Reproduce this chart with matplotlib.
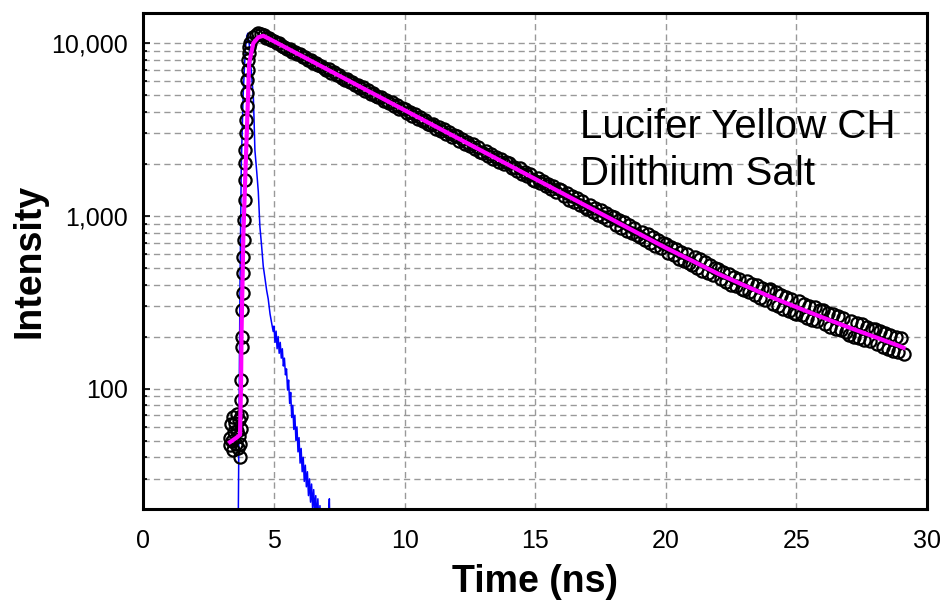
import numpy as np
import matplotlib
matplotlib.use('Agg')
from matplotlib import pyplot as plt
from matplotlib.ticker import FixedLocator, LogLocator, NullFormatter

# measured decay (open circles) - leading edge, uneven spacing
rise_t = [3.30, 3.33, 3.36, 3.39, 3.42, 3.45, 3.48, 3.51, 3.54, 3.57, 3.60, 3.63, 3.66, 3.68,
          3.70, 3.71, 3.72, 3.73, 3.74, 3.75, 3.77, 3.78, 3.79, 3.80, 3.82, 3.83, 3.85, 3.86,
          3.88, 3.89, 3.90, 3.91, 3.93, 3.94, 3.95, 3.96, 3.98, 3.99, 4.00, 4.03, 4.06]
rise_counts = [52, 47, 62, 50, 68, 44, 56, 63, 48, 57, 71, 45, 53, 66,
               40, 48, 58, 69, 86, 112, 175, 200, 286, 357, 466, 581, 726, 948,
               1240, 1620, 2020, 2410, 3010, 3600, 4300, 5130, 6120, 7000, 8000, 8800, 9500]

# measured decay - tail, one channel every 0.1 ns starting at 4.1 ns
decay_t0 = 4.1
decay_step = 0.1
decay_counts = [
    10000, 10800, 11200, 11450, 11350, 11100, 10750, 10700, 10350,
    10300, 9950, 9950, 9600, 9550, 9250, 9250, 8900, 8900, 8600,
    8600, 8300, 8250, 7950, 7980, 7700, 7700, 7420, 7400, 7150,
    7000, 7050, 6750, 6800, 6500, 6550, 6300, 6150, 6200, 5950,
    5950, 5700, 5750, 5500, 5550, 5300, 5350, 5100, 5150, 4950,
    4850, 4880, 4650, 4700, 4500, 4540, 4330, 4380, 4180, 4200,
    4150, 3950, 4000, 3800, 3880, 3650, 3720, 3520, 3600, 3400,
    3350, 3400, 3200, 3280, 3100, 3160, 2980, 3050, 2870, 2930,
    2900, 2720, 2790, 2620, 2690, 2530, 2590, 2440, 2500, 2350,
    2300, 2370, 2220, 2290, 2140, 2200, 2060, 2130, 1990, 2050,
    2010, 1890, 1920, 1820, 1880, 1740, 1800, 1690, 1740, 1610,
    1580, 1660, 1540, 1600, 1480, 1530, 1420, 1490, 1370, 1430,
    1410, 1300, 1350, 1240, 1310, 1200, 1270, 1150, 1220, 1120,
    1090, 1160, 1050, 1110, 1010, 1080, 980, 1040, 940, 1000,
    990, 890, 950, 850, 920, 820, 880, 800, 850, 770,
    750, 810, 720, 780, 700, 750, 670, 720, 650, 700,
    690, 610, 660, 590, 640, 560, 620, 550, 600, 530,
    520, 580, 500, 560, 480, 540, 465, 520, 455, 500,
    495, 430, 475, 415, 460, 400, 445, 390, 430, 375,
    370, 420, 360, 405, 350, 395, 335, 380, 325, 370,
    375, 310, 360, 300, 350, 290, 340, 280, 330, 275,
    270, 320, 265, 310, 255, 300, 250, 295, 245, 285,
    285, 235, 275, 228, 270, 222, 262, 218, 255, 212,
    205, 245, 200, 240, 195, 235, 190, 228, 188, 222,
    222, 180, 215, 175, 210, 170, 205, 165, 200, 162,
    195, 158,
]

# fitted curve (magenta)
fit_t = [3.32, 3.57, 3.70, 3.74, 3.76, 3.80, 3.83, 3.89, 3.95, 4.05, 4.21, 4.40, 4.59,
         5, 6, 7, 8, 9, 10, 11, 12, 13, 14, 15, 16, 17, 18, 19, 20,
         21, 22, 23, 24, 25, 26, 27, 28, 29, 29.1]
fit_counts = [49, 52, 54, 110, 219, 450, 798, 1500, 2755, 7650, 10000, 10800, 11020,
              10235, 8519, 7091, 5902, 4913, 4089, 3404, 2833, 2358, 1963, 1634, 1360, 1132, 942, 784, 653,
              550, 462, 396, 340, 296, 258, 226, 199, 175, 172]

# instrument response (blue)
irf_t = [3.60, 3.63, 3.66, 3.70, 3.75, 3.82, 3.90, 3.96, 4.00, 4.05, 4.12, 4.21, 4.24,
         4.27, 4.34, 4.40, 4.46, 4.53, 4.59, 4.66, 4.72, 4.78, 4.85, 4.91, 4.97]
irf_counts = [5, 15, 60, 400, 2000, 5000, 9000, 11000, 11400, 10000, 7200, 4900, 3500,
              2400, 1800, 1380, 870, 660, 510, 430, 370, 330, 270, 240, 214]
irf_tail_t0 = 5.0
irf_tail_step = 0.04
irf_tail_counts = [230, 185, 215, 170, 200, 160, 185, 150, 170, 135, 150, 120, 130, 98,
                   112, 82, 95, 68, 80, 58, 70, 50, 60, 43, 52, 37, 45, 33, 40, 29,
                   36, 27, 33, 24, 30, 22, 28, 20, 26, 19, 24, 17, 23, 16, 21, 15,
                   20, 14, 19, 13, 18, 12, 17, 23, 11, 14, 8]

x_ticks = [0, 5, 10, 15, 20, 25, 30]
y_ticks = [100, 1000, 10000]
y_ticklabels = ['100', '1,000', '10,000']


def main():
    plt.rcParams['font.family'] = ['Liberation Sans', 'DejaVu Sans']

    fig = plt.figure(figsize=(9.45, 6.02), dpi=100)
    ax = fig.add_axes([0.1517, 0.154, 0.8293, 0.825])

    decay_t = decay_t0 + decay_step * np.arange(len(decay_counts))
    tail_t = irf_tail_t0 + irf_tail_step * np.arange(len(irf_tail_counts))
    circ_t = np.concatenate([rise_t, decay_t])
    circ_c = np.concatenate([rise_counts, decay_counts])
    blue_t = np.concatenate([irf_t, tail_t])
    blue_c = np.concatenate([irf_counts, irf_tail_counts])

    ax.plot(blue_t, blue_c, color='#0000ff', lw=1.1, zorder=2)
    ax.plot(circ_t, circ_c, 'o', mfc='none', mec='black', ms=8.8, mew=1.6, zorder=3)
    ax.plot(fit_t, fit_counts, color='#ff00ff', lw=3, zorder=4)

    ax.set_yscale('log')
    ax.set_xlim(0, 30)
    ax.set_ylim(20, 15000)

    ax.xaxis.set_major_locator(FixedLocator(x_ticks))
    ax.yaxis.set_major_locator(FixedLocator(y_ticks))
    ax.set_yticklabels(y_ticklabels)
    ax.yaxis.set_minor_locator(LogLocator(base=10, subs=np.arange(2, 10)))
    ax.yaxis.set_minor_formatter(NullFormatter())

    # dashed grey grid
    grid_kw = dict(color='#999999', lw=1.0, linestyle=(0, (4.5, 3)))
    ax.grid(True, which='both', axis='y', **grid_kw)
    ax.grid(True, which='major', axis='x', **grid_kw)
    ax.set_axisbelow(True)

    ax.tick_params(axis='y', which='major', direction='in', length=5, width=1.2,
                   labelsize=18, pad=11)
    ax.tick_params(axis='y', which='minor', direction='in', length=3, width=1.2)
    ax.tick_params(axis='x', which='both', length=0, labelsize=18, pad=14)

    for s in ax.spines.values():
        s.set_linewidth(2.2)
        s.set_color('black')

    ax.set_xlabel('Time (ns)', fontsize=27, fontweight='bold', labelpad=8)
    ax.set_ylabel('Intensity', fontsize=27, fontweight='bold', labelpad=3)

    ax.text(0.557, 0.747, 'Lucifer Yellow CH', transform=ax.transAxes,
            fontsize=29, va='baseline', ha='left')
    ax.text(0.557, 0.653, 'Dilithium Salt', transform=ax.transAxes,
            fontsize=29, va='baseline', ha='left')

    fig.savefig('out.png', dpi=100)


if __name__ == "__main__":
    main()
